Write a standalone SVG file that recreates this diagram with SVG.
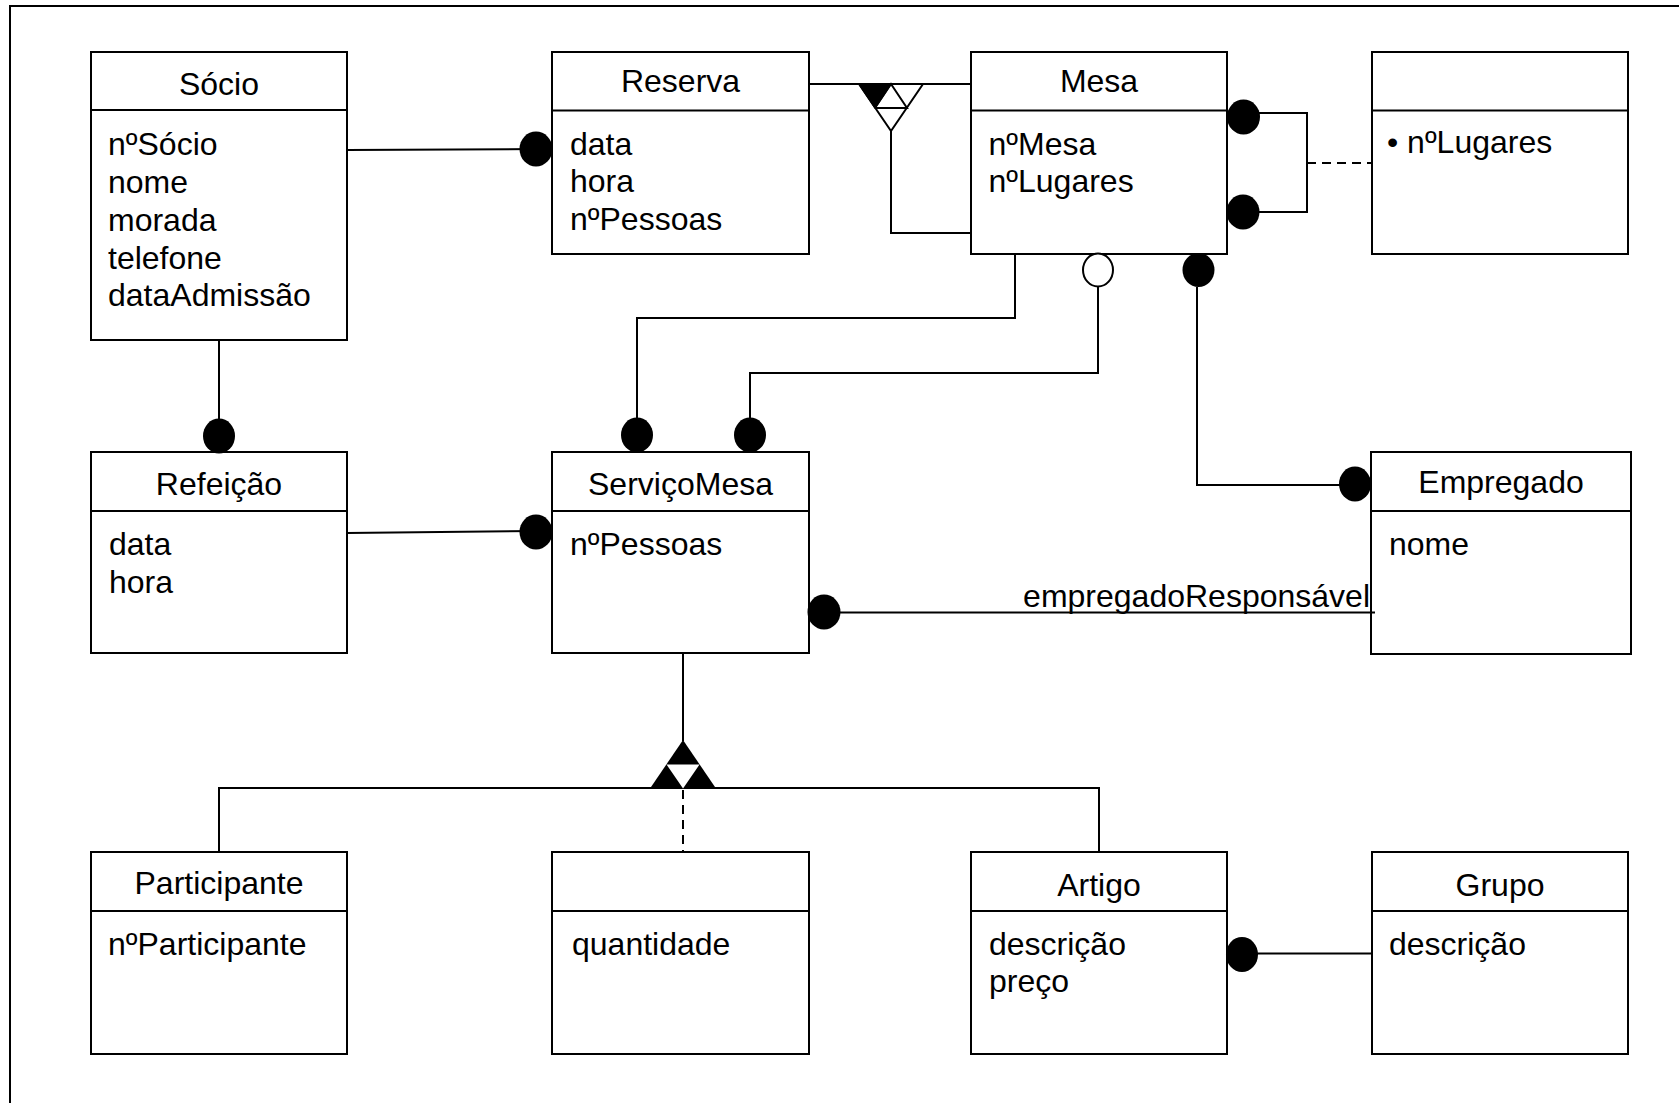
<svg xmlns="http://www.w3.org/2000/svg" width="1679" height="1103" viewBox="0 0 1679 1103">
<style>
.box{fill:#fff;stroke:#000;stroke-width:2}
.sep{stroke:#000;stroke-width:2}
.ln{fill:none;stroke:#000;stroke-width:2}
.dash{fill:none;stroke:#000;stroke-width:2;stroke-dasharray:9,6}
.dot{fill:#000}
.odot{fill:#fff;stroke:#000;stroke-width:2}
.t{font-family:"Liberation Sans",Arial,Helvetica,sans-serif;font-size:32px;fill:#000}
.c{text-anchor:middle}
.e{text-anchor:end}
</style>
<rect x="0" y="0" width="1679" height="1103" fill="#fff"/>
<rect x="10" y="6" width="1700" height="1200" fill="none" stroke="#000" stroke-width="2"/>

<g id="socio">
<rect class="box" x="91" y="52" width="256" height="288"/>
<line class="sep" x1="91" y1="110" x2="347" y2="110"/>
<text class="t c" x="219" y="95">Sócio</text>
<text class="t" x="108" y="155">nºSócio</text>
<text class="t" x="108" y="193">nome</text>
<text class="t" x="108" y="231">morada</text>
<text class="t" x="108" y="269">telefone</text>
<text class="t" x="108" y="306">dataAdmissão</text>
</g>

<g id="reserva">
<rect class="box" x="552" y="52" width="257" height="202"/>
<line class="sep" x1="552" y1="110.5" x2="809" y2="110.5"/>
<text class="t c" x="680.5" y="92">Reserva</text>
<text class="t" x="570" y="155">data</text>
<text class="t" x="570" y="192">hora</text>
<text class="t" x="570" y="230">nºPessoas</text>
</g>

<g id="mesa">
<rect class="box" x="971" y="52" width="256" height="202"/>
<line class="sep" x1="971" y1="110.5" x2="1227" y2="110.5"/>
<text class="t c" x="1099" y="92">Mesa</text>
<text class="t" x="988.5" y="155">nºMesa</text>
<text class="t" x="988.5" y="192">nºLugares</text>
</g>

<g id="lugares">
<rect class="box" x="1372" y="52" width="256" height="202"/>
<line class="sep" x1="1372" y1="110.5" x2="1628" y2="110.5"/>
<text class="t" x="1387" y="153">• nºLugares</text>
</g>

<g id="refeicao">
<rect class="box" x="91" y="452" width="256" height="201"/>
<line class="sep" x1="91" y1="511" x2="347" y2="511"/>
<text class="t c" x="219" y="495">Refeição</text>
<text class="t" x="109" y="555">data</text>
<text class="t" x="109" y="593">hora</text>
</g>

<g id="servicomesa">
<rect class="box" x="552" y="452" width="257" height="201"/>
<line class="sep" x1="552" y1="511" x2="809" y2="511"/>
<text class="t c" x="680.5" y="495">ServiçoMesa</text>
<text class="t" x="570" y="555">nºPessoas</text>
</g>

<g id="empregado">
<rect class="box" x="1371" y="452" width="260" height="202"/>
<line class="sep" x1="1371" y1="511" x2="1631" y2="511"/>
<text class="t c" x="1501" y="493">Empregado</text>
<text class="t" x="1389" y="555">nome</text>
</g>

<g id="participante">
<rect class="box" x="91" y="852" width="256" height="202"/>
<line class="sep" x1="91" y1="911" x2="347" y2="911"/>
<text class="t c" x="219" y="894">Participante</text>
<text class="t" x="108" y="955">nºParticipante</text>
</g>

<g id="quantidade">
<rect class="box" x="552" y="852" width="257" height="202"/>
<line class="sep" x1="552" y1="911" x2="809" y2="911"/>
<text class="t" x="572" y="955">quantidade</text>
</g>

<g id="artigo">
<rect class="box" x="971" y="852" width="256" height="202"/>
<line class="sep" x1="971" y1="911" x2="1227" y2="911"/>
<text class="t c" x="1099" y="896">Artigo</text>
<text class="t" x="989" y="955">descrição</text>
<text class="t" x="989" y="992">preço</text>
</g>

<g id="grupo">
<rect class="box" x="1372" y="852" width="256" height="202"/>
<line class="sep" x1="1372" y1="911" x2="1628" y2="911"/>
<text class="t c" x="1500" y="896">Grupo</text>
<text class="t" x="1389" y="955">descrição</text>
</g>

<g id="connectors">
<!-- Socio - Reserva -->
<line class="ln" x1="347" y1="150" x2="536" y2="149"/>
<ellipse class="dot" cx="536" cy="149" rx="16.5" ry="17.5"/>
<!-- Reserva - Mesa (ternary-like triangle) -->
<line class="ln" x1="809" y1="84" x2="971" y2="84"/>
<polygon points="859,84 923,84 891,131" fill="#fff" stroke="#000" stroke-width="2"/>
<polygon points="859,84 891,84 875,108" fill="#000" stroke="#000" stroke-width="1.5"/>
<polyline class="ln" points="875,108 891,84 907,108 875,108" stroke-width="1.5"/>
<polyline class="ln" points="891,131 891,233 971,233"/>
<!-- Mesa self-relation -->
<polyline class="ln" points="1243,113 1307,113 1307,212 1243,212"/>
<ellipse class="dot" cx="1243.5" cy="117" rx="16.5" ry="17.5"/>
<ellipse class="dot" cx="1243" cy="212" rx="16.5" ry="17.5"/>
<line class="dash" x1="1307" y1="163" x2="1372" y2="163"/>
<!-- Mesa - ServicoMesa -->
<polyline class="ln" points="1015,254 1015,318 637,318 637,420"/>
<ellipse class="dot" cx="637" cy="435" rx="16" ry="17.5"/>
<polyline class="ln" points="1098,287 1098,373 750,373 750,420"/>
<ellipse class="dot" cx="750" cy="435" rx="16" ry="17.5"/>
<ellipse class="odot" cx="1098" cy="270" rx="15" ry="16.5"/>
<!-- Mesa - Empregado -->
<polyline class="ln" points="1197,287 1197,485 1345,485"/>
<ellipse class="dot" cx="1198.5" cy="270" rx="16" ry="17"/>
<ellipse class="dot" cx="1355" cy="484" rx="16" ry="17.5"/>
<!-- Socio - Refeicao -->
<line class="ln" x1="219" y1="340" x2="219" y2="425"/>
<ellipse class="dot" cx="219" cy="436" rx="16" ry="17.5"/>
<!-- Refeicao - ServicoMesa -->
<line class="ln" x1="347" y1="533" x2="536" y2="531"/>
<ellipse class="dot" cx="536" cy="532" rx="16.5" ry="17.5"/>
<!-- ServicoMesa - Empregado -->
<line class="ln" x1="835" y1="612.5" x2="1375" y2="612.5"/>
<ellipse class="dot" cx="824" cy="612" rx="16.5" ry="17.5"/>
<text class="t e" x="1370" y="607">empregadoResponsável</text>
<!-- Generalization -->
<line class="ln" x1="683" y1="653" x2="683" y2="741"/>
<polyline class="ln" points="219,852 219,788 1099,788 1099,852"/>
<polygon points="683,740 650,788.5 716,788.5" fill="#000"/>
<polygon points="666.5,764.5 699.5,764.5 683,788.5" fill="#fff"/>
<line class="dash" x1="683" y1="790" x2="683" y2="852"/>
<!-- Artigo - Grupo -->
<line class="ln" x1="1250" y1="953.5" x2="1372" y2="953.5"/>
<ellipse class="dot" cx="1242" cy="954.5" rx="16" ry="17.5"/>
</g>
</svg>
